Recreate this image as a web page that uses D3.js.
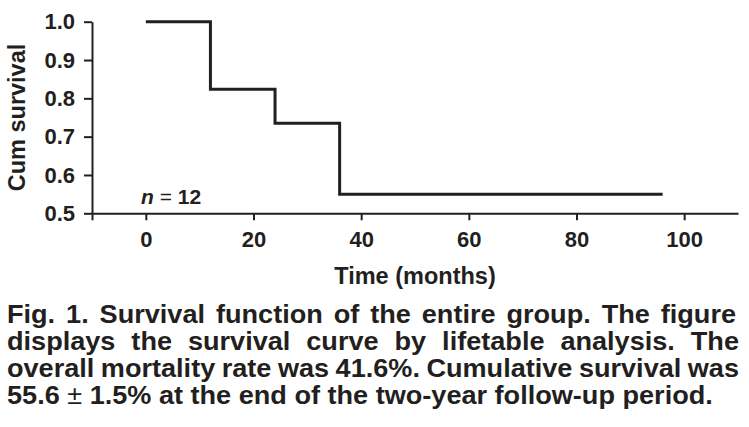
<!DOCTYPE html>
<html>
<head>
<meta charset="utf-8">
<script src="https://cdn.jsdelivr.net/npm/d3@7/dist/d3.min.js"></script>
<style>
  body { margin: 0; background: #fff; }
  svg text { font-family: "Liberation Sans", Arial, Helvetica, sans-serif; font-weight: bold; fill: #231f20; }
  .axis path, .axis line { stroke: #231f20; stroke-width: 2px; }
  .axis text { font-size: 22px; }
</style>
</head>
<body>
<svg id="canvas" width="749" height="427"></svg>
<script>
// life table survival curve
var months = [0, 12, 24, 36, 96];
var cumSurvival = [1.0, 0.824, 0.735, 0.55, 0.55];
var xTicks = [0, 20, 40, 60, 80, 100];
var yTicks = [0.5, 0.6, 0.7, 0.8, 0.9, 1.0];
var captionLines = [
  "Fig. 1. Survival function of the entire group. The figure",
  "displays the survival curve by lifetable analysis. The",
  "overall mortality rate was 41.6%. Cumulative survival was",
  "55.6 ± 1.5% at the end of the two-year follow-up period."
];

var canvas = d3.select("#canvas");

var x = d3.scaleLinear().domain([-10, 110]).range([92, 738]);
var y = d3.scaleLinear().domain([0.5, 1.0]).range([213.3, 21.7]);

// x axis, extra unlabeled tick at the left end
canvas.append("g")
  .attr("class", "axis")
  .attr("transform", "translate(0," + y(0.5) + ")")
  .call(d3.axisBottom(x)
    .tickValues([x.domain()[0]].concat(xTicks))
    .tickSize(7)
    .tickSizeOuter(0)
    .tickPadding(11)
    .tickFormat(function(d) { return d < 0 ? "" : d; }));

// y axis
canvas.append("g")
  .attr("class", "axis")
  .attr("transform", "translate(" + x.range()[0] + ",0)")
  .call(d3.axisLeft(y)
    .tickValues(yTicks)
    .tickSize(8)
    .tickSizeOuter(0)
    .tickPadding(9)
    .tickFormat(d3.format(".1f")));

// axis titles
canvas.append("text")
  .attr("transform", "translate(24.5," + ((y(0.5) + y(1.0)) / 2) + ") rotate(-90)")
  .attr("text-anchor", "middle")
  .style("font-size", "23.5px")
  .text("Cum survival");

canvas.append("text")
  .attr("x", (x.range()[0] + x.range()[1]) / 2)
  .attr("y", 283.5)
  .attr("text-anchor", "middle")
  .style("font-size", "23.5px")
  .text("Time (months)");

// survival step curve
var data = months.map(function(m, i) { return { t: m, s: cumSurvival[i] }; });
canvas.append("path")
  .datum(data)
  .attr("fill", "none")
  .attr("stroke", "#231f20")
  .attr("stroke-width", 3)
  .attr("d", d3.line()
    .x(function(d) { return x(d.t); })
    .y(function(d) { return y(d.s); })
    .curve(d3.curveStepAfter));

// n = 12
var nLabel = canvas.append("text")
  .attr("x", 141)
  .attr("y", 204)
  .style("font-size", "21px");
nLabel.append("tspan").style("font-style", "italic").text("n");
nLabel.append("tspan").style("font-weight", "normal").text(" = ");
nLabel.append("tspan").text("12");

// caption, squeezed to the width of the last line and justified
var ends = [736, 739, 739, 713];
var cap = canvas.append("g");
var lines = cap.selectAll("text")
  .data(captionLines)
  .enter()
  .append("text")
  .attr("x", 0)
  .attr("y", function(d, i) { return 323 + 27 * i; })
  .style("font-size", "25px");

lines.each(function(d) {
  var parts = d.split("±");
  var t = d3.select(this);
  parts.forEach(function(p, k) {
    if (k > 0) t.append("tspan").style("font-weight", "normal").text("±");
    t.append("tspan").text(p);
  });
});

var lastW = lines.nodes()[3].getComputedTextLength();
var sx = (ends[3] - 7) / lastW;
cap.attr("transform", "translate(7,0) scale(" + sx + ",1)");

lines.each(function(d, i) {
  if (i < 3) {
    var w = this.getComputedTextLength();
    var gaps = d.split(" ").length - 1;
    var target = (ends[i] - 7) / sx;
    d3.select(this).style("word-spacing", ((target - w) / gaps) + "px");
  }
});
</script>
</body>
</html>
